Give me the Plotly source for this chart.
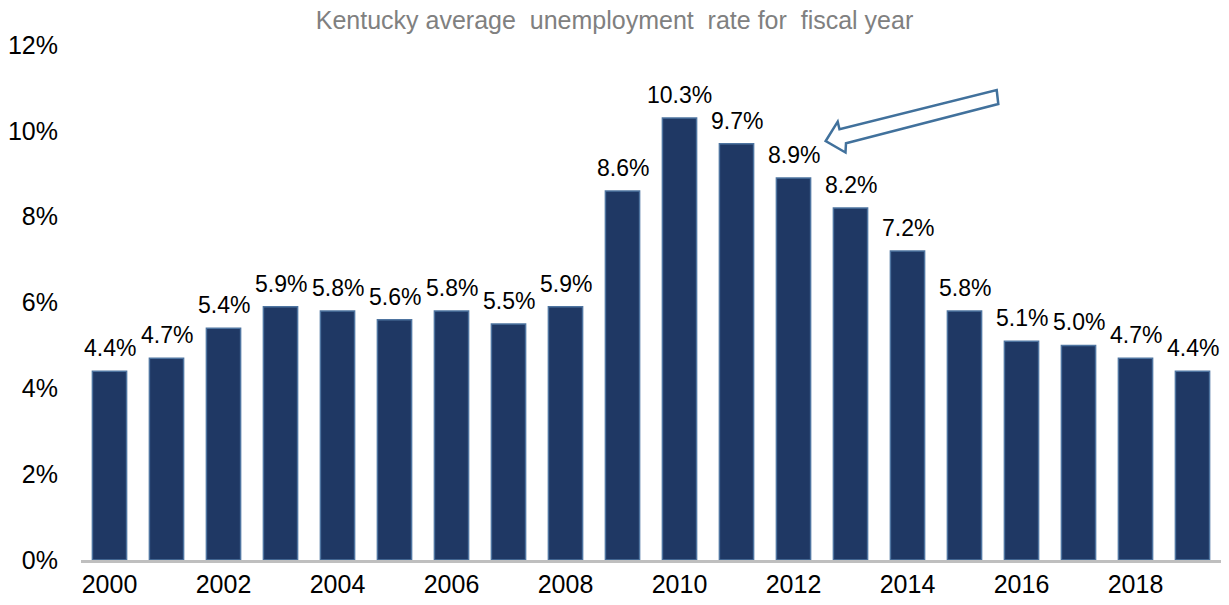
import plotly.graph_objects as go

years = list(range(2000, 2020))
rates = [4.4, 4.7, 5.4, 5.9, 5.8, 5.6, 5.8, 5.5, 5.9, 8.6,
         10.3, 9.7, 8.9, 8.2, 7.2, 5.8, 5.1, 5.0, 4.7, 4.4]
tick_years = [2000, 2002, 2004, 2006, 2008, 2010, 2012, 2014, 2016, 2018]
y_ticks = [0, 2, 4, 6, 8, 10, 12]

FONT = "Liberation Sans, Arial, sans-serif"

fig = go.Figure()
fig.add_trace(go.Bar(
    x=years, y=rates, width=0.6,
    marker=dict(color="#1f3864", line=dict(color="#4e74a0", width=1.5)),
    hoverinfo="skip",
))

for yr, v in zip(years, rates):
    fig.add_annotation(x=yr, y=v, text=f"{v:.1f}%", showarrow=False,
                       yanchor="bottom", yshift=8,
                       font=dict(family=FONT, size=23, color="#000000"))

# outlined block arrow (paper coordinates of plot area)
L, T, W, H = 81, 45, 1140, 515
pts = [(825.7, 141), (837.7, 121.7), (839.5, 129.3), (996.7, 90),
       (998.3, 104), (846.0, 143.3), (845.5, 152.5)]
path = "M " + " L ".join(f"{(px - L) / W:.5f},{(T + H - py) / H:.5f}" for px, py in pts) + " Z"
fig.add_shape(type="path", path=path, xref="paper", yref="paper",
              line=dict(color="#41719c", width=2.5), fillcolor="white")

fig.update_layout(
    width=1229, height=605, autosize=False,
    margin=dict(l=81, r=8, t=45, b=45),
    plot_bgcolor="white", paper_bgcolor="white",
    showlegend=False,
    font=dict(family=FONT, size=24, color="#000000"),
    title=dict(text="Kentucky average&nbsp; unemployment&nbsp; rate for&nbsp; fiscal year",
               x=0.5, xref="container", xanchor="center",
               y=1 - 20 / 605, yref="container", yanchor="middle",
               font=dict(family=FONT, size=25, color="#808080")),
    xaxis=dict(range=[1999.5, 2019.5], tickmode="array", tickvals=tick_years,
               ticktext=[str(t) for t in tick_years], showgrid=False, zeroline=False,
               showline=True, linecolor="#bfbfbf", linewidth=3, ticks="",
               tickfont=dict(family=FONT, size=25, color="#000000")),
    yaxis=dict(range=[0, 12], tickmode="array", tickvals=y_ticks,
               ticktext=[f"{t}%" for t in y_ticks], showgrid=False, zeroline=False,
               showline=False, ticks="", ticklabelstandoff=22,
               tickfont=dict(family=FONT, size=25, color="#000000")),
)

fig.write_html("out.html")
